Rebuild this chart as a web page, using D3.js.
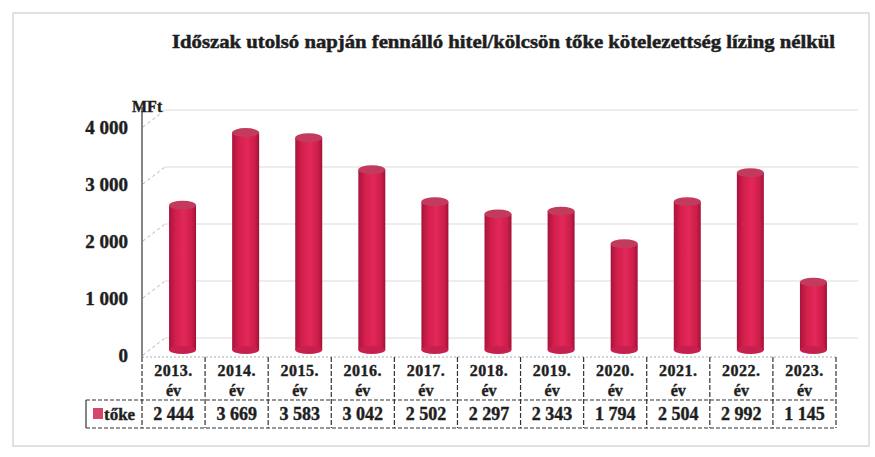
<!DOCTYPE html>
<html><head><meta charset="utf-8">
<script src="https://cdn.jsdelivr.net/npm/d3@7"></script>
<style>body{margin:0;background:#fff}svg{display:block}</style>
</head><body>
<script>
const categories = ["2013.","2014.","2015.","2016.","2017.","2018.","2019.","2020.","2021.","2022.","2023."];
const subLabel = "év";
const values = [2444,3669,3583,3042,2502,2297,2343,1794,2504,2992,1145];
const valueLabels = ["2 444","3 669","3 583","3 042","2 502","2 297","2 343","1 794","2 504","2 992","1 145"];
const yTicks = [0,1000,2000,3000,4000];
const yTickLabels = ["0","1 000","2 000","3 000","4 000"];
const seriesName = "tőke";
const title = "Időszak utolsó napján fennálló hitel/kölcsön tőke kötelezettség lízing nélkül";
const unit = "MFt";

const W=875,H=457;
const svg=d3.select("body").append("svg").attr("width",W).attr("height",H);
const serif="'Liberation Serif','DejaVu Serif',serif";
const ink="#1e1e1e";

// frame
svg.append("rect").attr("x",13).attr("y",13).attr("width",856).attr("height",433)
  .attr("fill","none").attr("stroke","#d8d8d8").attr("stroke-width",1.5);

// title
svg.append("text").attr("x",172).attr("y",48).text(title)
  .attr("font-family",serif).attr("font-weight","bold").attr("font-size",19)
  .attr("textLength",663).attr("lengthAdjust","spacingAndGlyphs").attr("fill",ink)
  .attr("stroke",ink).attr("stroke-width",0.5);

const x=d3.scaleBand().domain(categories).range([142,836]).padding(0);
const yAxisScale=d3.scaleLinear().domain([0,4000]).range([355,127]);
const yWall=d3.scaleLinear().domain([0,4000]).range([338,110]);
const yBar=d3.scaleLinear().domain([0,4000]).range([350,113]);

// back wall gridlines
svg.append("g").selectAll("line").data(yTicks).join("line")
  .attr("x1",165).attr("x2",858).attr("y1",d=>yWall(d)).attr("y2",d=>yWall(d))
  .attr("stroke","#dcdcdc").attr("stroke-width",1.2);

// y axis labels
const ya=svg.append("g").attr("transform","translate(128,0)")
  .call(d3.axisLeft(yAxisScale).tickValues(yTicks).tickFormat((d,i)=>yTickLabels[i]).tickSize(0).tickPadding(0));
ya.select(".domain").remove();
ya.selectAll("text").attr("font-family",serif).attr("font-weight","bold").attr("font-size",19)
  .attr("fill",ink).attr("stroke",ink).attr("stroke-width",0.4).attr("dy","0.35em");

// axis line
svg.append("line").attr("x1",142).attr("x2",142).attr("y1",yAxisScale(4000)-20).attr("y2",yAxisScale(0)+2)
  .attr("stroke","#444").attr("stroke-width",1.3);
svg.append("text").attr("x",132).attr("y",112).text(unit)
  .attr("font-family",serif).attr("font-weight","bold").attr("font-size",16).attr("fill",ink)
  .attr("stroke",ink).attr("stroke-width",0.4);
// depth ticks
svg.append("g").selectAll("line").data(yTicks).join("line")
  .attr("x1",143).attr("x2",165).attr("y1",d=>yAxisScale(d)).attr("y2",d=>yWall(d))
  .attr("stroke","#999").attr("stroke-width",0.8).attr("stroke-dasharray","3,3");

// gradient
const defs=svg.append("defs");
const g=defs.append("linearGradient").attr("id","cyl").attr("x1","0").attr("x2","1");
g.append("stop").attr("offset","0").attr("stop-color","#a8143c");
g.append("stop").attr("offset","0.25").attr("stop-color","#d41f4c");
g.append("stop").attr("offset","0.55").attr("stop-color","#e2285a");
g.append("stop").attr("offset","0.85").attr("stop-color","#cc1d48");
g.append("stop").attr("offset","1").attr("stop-color","#a01238");

const bw=27, off=9;
const bars=svg.append("g").selectAll("g").data(values).join("g");
bars.append("rect")
  .attr("x",(d,i)=>x(categories[i])+x.bandwidth()/2+off-bw/2)
  .attr("y",d=>yBar(d)).attr("width",bw).attr("height",d=>yBar(0)-yBar(d))
  .attr("fill","url(#cyl)");
bars.append("ellipse")
  .attr("cx",(d,i)=>x(categories[i])+x.bandwidth()/2+off).attr("cy",d=>yBar(0))
  .attr("rx",bw/2).attr("ry",4).attr("fill","#c8204e");
bars.append("ellipse")
  .attr("cx",(d,i)=>x(categories[i])+x.bandwidth()/2+off).attr("cy",d=>yBar(d))
  .attr("rx",bw/2).attr("ry",4.5).attr("fill","#c23a5c");

// table
const tTop=357, tMid=400, tBot=428, legL=86;
const tb=svg.append("g").attr("stroke","#333").attr("stroke-width",1.2).attr("fill","none");
tb.append("line").attr("x1",142).attr("x2",836).attr("y1",tTop).attr("y2",tTop).attr("stroke","#aaa").attr("stroke-dasharray","2,2");
tb.append("line").attr("x1",legL).attr("x2",836).attr("y1",tMid).attr("y2",tMid).attr("stroke-dasharray","4,2");
tb.append("line").attr("x1",legL).attr("x2",836).attr("y1",tBot).attr("y2",tBot).attr("stroke-dasharray","4,2");
tb.append("line").attr("x1",legL).attr("x2",legL).attr("y1",tMid).attr("y2",tBot);
tb.selectAll("line.v").data(categories.concat(["end"])).join("line").attr("class","v")
  .attr("x1",(d,i)=>i<categories.length?x(d):x.range()[1])
  .attr("x2",(d,i)=>i<categories.length?x(d):x.range()[1])
  .attr("y1",tTop).attr("y2",tBot).attr("stroke-dasharray","5,2");

const txt=svg.append("g").attr("font-family",serif).attr("font-weight","bold").attr("fill",ink)
  .attr("stroke",ink).attr("stroke-width",0.4).attr("text-anchor","middle");
txt.selectAll("text.yr").data(categories).join("text").attr("class","yr")
  .attr("x",d=>x(d)+x.bandwidth()/2).attr("y",376).attr("font-size",16).attr("letter-spacing",0.5).text(d=>d);
txt.selectAll("text.ev").data(categories).join("text").attr("class","ev")
  .attr("x",d=>x(d)+x.bandwidth()/2).attr("y",396).attr("font-size",16).text(subLabel);
txt.selectAll("text.val").data(valueLabels).join("text").attr("class","val")
  .attr("x",(d,i)=>x(categories[i])+x.bandwidth()/2).attr("y",420).attr("font-size",18).text(d=>d);

svg.append("rect").attr("x",93).attr("y",408).attr("width",10).attr("height",11).attr("fill","#d4466a");
svg.append("text").attr("x",104).attr("y",420).text(seriesName)
  .attr("font-family",serif).attr("font-weight","bold").attr("font-size",17).attr("fill",ink)
  .attr("stroke",ink).attr("stroke-width",0.4);
</script>
</body></html>
